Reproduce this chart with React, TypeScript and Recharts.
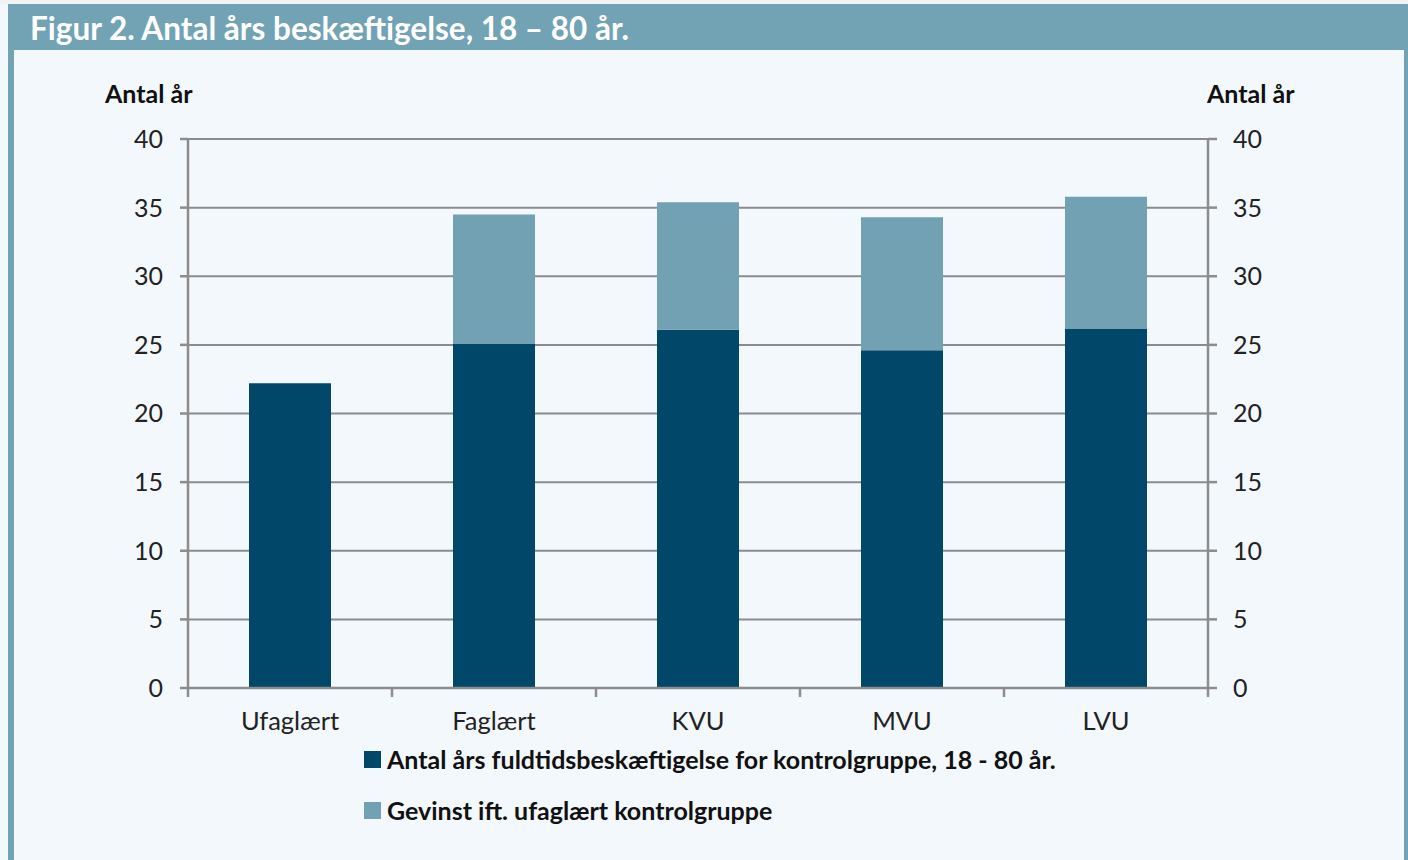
import React from "react";
import { BarChart, Bar, XAxis, YAxis, CartesianGrid } from "recharts";

const categories = ["Ufaglært", "Faglært", "KVU", "MVU", "LVU"];
const baseYears = [22.2, 25.1, 26.1, 24.6, 26.2];
const gainYears = [0, 9.4, 9.3, 9.7, 9.6];
const yTicks = [0, 5, 10, 15, 20, 25, 30, 35, 40];
const seriesNames = [
  "Antal års fuldtidsbeskæftigelse for kontrolgruppe, 18 - 80 år.",
  "Gevinst ift. ufaglært kontrolgruppe",
];
const title = "Figur 2. Antal års beskæftigelse, 18 – 80 år.";
const axisTitle = "Antal år";

const DARK = "#00476a";
const LIGHT = "#72a1b3";
const FRAME = "#71a3b5";
const BG = "#f3f8fd";
const AXIS = "#8c8c8c";
const FONT = "Lato, 'Noto Sans', sans-serif";

const W = 1408;
const H = 860;
const margin = { top: 139, right: 120, left: 108, bottom: 132 };
const Y_W = 80;
const X_H = 40;
const plotW = W - margin.left - margin.right - 2 * Y_W;
const band = plotW / categories.length;
const X_TICK = 9;
const X_GAP = 15;

const data = categories.map((c, i) => ({
  name: c,
  base: baseYears[i],
  gain: gainYears[i],
}));

// kategori-etiket + tick-streg på grænsen mellem søjlerne
const CatTick = (props: any) => {
  const { x, y, payload, index } = props;
  const axisY = y - X_GAP - X_TICK;
  const left = x - band / 2;
  return (
    <g>
      <line x1={left} x2={left} y1={axisY} y2={axisY + X_TICK} stroke={AXIS} strokeWidth={2.5} />
      {index === categories.length - 1 && (
        <line x1={x + band / 2} x2={x + band / 2} y1={axisY} y2={axisY + X_TICK} stroke={AXIS} strokeWidth={2.5} />
      )}
      <text x={x} y={y} dy="0.71em" textAnchor="middle" fill="#222" fontSize={25.5} fontFamily={FONT}>
        {payload.value}
      </text>
    </g>
  );
};

export default function App() {
  const tickStyle = { fill: "#222", fontSize: 25, fontFamily: FONT };
  const labelStyle: React.CSSProperties = { position: "absolute", top: 78, fontFamily: FONT, fontWeight: 700, fontSize: 25, color: "#111" };
  return (
    <div style={{ position: "absolute", left: 0, top: 0, width: W, height: H, background: BG, overflow: "hidden" }}>
      <div style={{ position: "absolute", left: 0, top: 0, width: W, height: 4, background: "#f0f2f3" }} />
      <div style={{ position: "absolute", left: 8, top: 4, width: 6, height: H, background: FRAME }} />
      <div style={{ position: "absolute", left: 1404, top: 4, width: 4, height: H, background: FRAME }} />
      <div
        style={{
          position: "absolute",
          left: 8,
          top: 4,
          width: W - 8,
          height: 46,
          background: FRAME,
          color: "#fff",
          fontFamily: FONT,
          fontWeight: 700,
          fontSize: 31.5,
          lineHeight: "48px",
          paddingLeft: 22,
          boxSizing: "border-box",
          whiteSpace: "nowrap",
        }}
      >
        {title}
      </div>
      <div style={{ ...labelStyle, left: 105 }}>{axisTitle}</div>
      <div style={{ ...labelStyle, left: 1207 }}>{axisTitle}</div>
      <div style={{ position: "absolute", left: 0, top: 0 }}>
        <BarChart width={W} height={H} data={data} margin={margin}>
          <CartesianGrid vertical={false} stroke={AXIS} strokeWidth={2} yAxisId="left" />
          <XAxis
            dataKey="name"
            height={X_H}
            axisLine={{ stroke: AXIS, strokeWidth: 2.5 }}
            tickLine={false}
            tickSize={X_TICK}
            tickMargin={X_GAP}
            tick={<CatTick />}
            interval={0}
          />
          <YAxis
            yAxisId="left"
            width={Y_W}
            type="number"
            domain={[0, 40]}
            allowDataOverflow
            ticks={yTicks}
            axisLine={{ stroke: AXIS, strokeWidth: 2.5 }}
            tickLine={{ stroke: AXIS, strokeWidth: 2.5 }}
            tickSize={8}
            tickMargin={17}
            tick={tickStyle}
          />
          <YAxis
            yAxisId="right"
            orientation="right"
            width={Y_W}
            type="number"
            domain={[0, 40]}
            allowDataOverflow
            ticks={yTicks}
            axisLine={{ stroke: AXIS, strokeWidth: 2.5 }}
            tickLine={{ stroke: AXIS, strokeWidth: 2.5 }}
            tickSize={9}
            tickMargin={16}
            tick={tickStyle}
          />
          <Bar dataKey="base" stackId="a" yAxisId="left" fill={DARK} barSize={82} isAnimationActive={false} name={seriesNames[0]} />
          <Bar dataKey="gain" stackId="a" yAxisId="left" fill={LIGHT} barSize={82} isAnimationActive={false} name={seriesNames[1]} />
        </BarChart>
      </div>
      <div style={{ position: "absolute", left: 364, top: 742, fontFamily: FONT, fontWeight: 700, fontSize: 25, color: "#111" }}>
        {seriesNames.map((n, i) => (
          <div key={n} style={{ display: "flex", alignItems: "center", height: 34, marginBottom: i === 0 ? 17 : 0 }}>
            <span style={{ display: "inline-block", width: 17, height: 17, background: i === 0 ? DARK : LIGHT, marginRight: 6 }} />
            {n}
          </div>
        ))}
      </div>
    </div>
  );
}
